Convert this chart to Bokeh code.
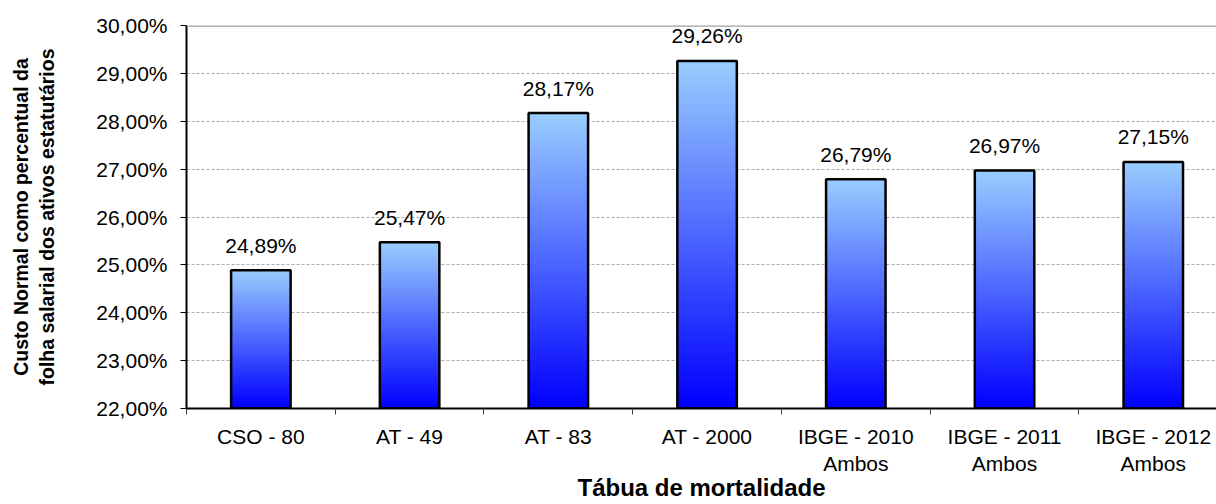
from bokeh.plotting import figure
from bokeh.models import FixedTicker, Span, Range1d, ColumnDataSource
from bokeh.core.properties import value
from bokeh.embed import file_html
from bokeh.resources import INLINE

# ---- data ----
categories = ["CSO - 80", "AT - 49", "AT - 83", "AT - 2000",
              "IBGE - 2010\nAmbos", "IBGE - 2011\nAmbos", "IBGE - 2012\nAmbos"]
values = [24.89, 25.47, 28.17, 29.26, 26.79, 26.97, 27.15]
y_ticks = [22, 23, 24, 25, 26, 27, 28, 29, 30]
y_tick_labels = ["22,00%", "23,00%", "24,00%", "25,00%", "26,00%",
                 "27,00%", "28,00%", "29,00%", "30,00%"]
y_title = "Custo Normal como percentual da\nfolha salarial dos ativos estatutários"
x_title = "Tábua de mortalidade"

FONT = "Liberation Sans"
Y0, Y1 = 22, 30
BAR_W = 0.40
TOP_RGB = (153, 204, 255)
BOT_RGB = (0, 0, 255)
N = 80

p = figure(width=1216, height=504, output_backend="svg", toolbar_location=None,
           x_range=Range1d(-0.5, 6.425), y_range=Range1d(Y0, Y1),
           min_border_left=186, min_border_right=0, min_border_top=25,
           min_border_bottom=93)
p.outline_line_color = None
p.background_fill_color = "white"
p.border_fill_color = "white"

# gridlines
p.xgrid.visible = False
p.ygrid.ticker = FixedTicker(ticks=y_ticks)
p.ygrid.grid_line_color = "#ababab"
p.ygrid.grid_line_dash = "3 2"
p.ygrid.grid_line_width = 1
p.add_layout(Span(location=y_ticks[-1], dimension="width",
                  line_color="#a0a0a0", line_width=2.5))

# gradient bars (stacked overlapping slices, bottom first)
xs = list(range(len(values)))
L, R, B, T, C = [], [], [], [], []
for k in range(N):
    t = k / (N - 1)  # 0 bottom -> 1 top
    rgb = tuple(int(round(BOT_RGB[i] + (TOP_RGB[i] - BOT_RGB[i]) * t)) for i in range(3))
    col = "#%02x%02x%02x" % rgb
    for x, v in zip(xs, values):
        L.append(x - BAR_W / 2)
        R.append(x + BAR_W / 2)
        B.append(Y0 + (v - Y0) * k / N)
        T.append(v)
        C.append(col)
p.quad(left=L, right=R, bottom=B, top=T, fill_color=C, line_color=None)

src = ColumnDataSource(dict(x=xs, top=values,
                            lab=[("%.2f" % v).replace(".", ",") + "%" for v in values]))
p.vbar(x="x", top="top", bottom=Y0, width=BAR_W, source=src,
       fill_color=None, line_color="black", line_width=2.5)
p.text(x="x", y="top", text="lab", source=src, text_align="center",
       text_baseline="alphabetic", y_offset=-25, text_font=value(FONT),
       text_font_size="21px", text_color="black")

# y axis
ya = p.yaxis[0]
ya.ticker = FixedTicker(ticks=y_ticks)
ya.major_label_overrides = {t: l for t, l in zip(y_ticks, y_tick_labels)}
ya.axis_line_color = "black"
ya.axis_line_width = 2
ya.major_tick_line_color = "black"
ya.major_tick_line_width = 1
ya.major_tick_out = 6
ya.major_tick_in = 0
ya.minor_tick_line_color = None
ya.major_label_standoff = 13
ya.major_label_text_font = FONT
ya.major_label_text_font_size = "21px"
ya.major_label_text_color = "black"
ya.axis_label = y_title
ya.axis_label_text_font = FONT
ya.axis_label_text_font_style = "bold"
ya.axis_label_text_font_size = "19.5px"
ya.axis_label_text_color = "black"
ya.axis_label_standoff = 35

# x axis
xa = p.xaxis[0]
xa.ticker = FixedTicker(ticks=xs, minor_ticks=[x - 0.5 for x in xs] + [xs[-1] + 0.5])
xa.major_label_overrides = {x: c for x, c in zip(xs, categories)}
xa.axis_line_color = "black"
xa.axis_line_width = 2
xa.major_tick_line_color = None
xa.major_tick_out = 0
xa.major_tick_in = 0
xa.minor_tick_line_color = "#404040"
xa.minor_tick_line_width = 1
xa.minor_tick_out = 6
xa.minor_tick_in = 0
xa.major_label_standoff = 10
xa.major_label_text_font = FONT
xa.major_label_text_font_size = "21px"
xa.major_label_text_color = "black"
xa.axis_label = x_title
xa.axis_label_text_font = FONT
xa.axis_label_text_font_style = "bold"
xa.axis_label_text_font_size = "24px"
xa.axis_label_text_color = "black"
xa.axis_label_standoff = -4

open("out.html", "w").write(file_html(p, INLINE))
